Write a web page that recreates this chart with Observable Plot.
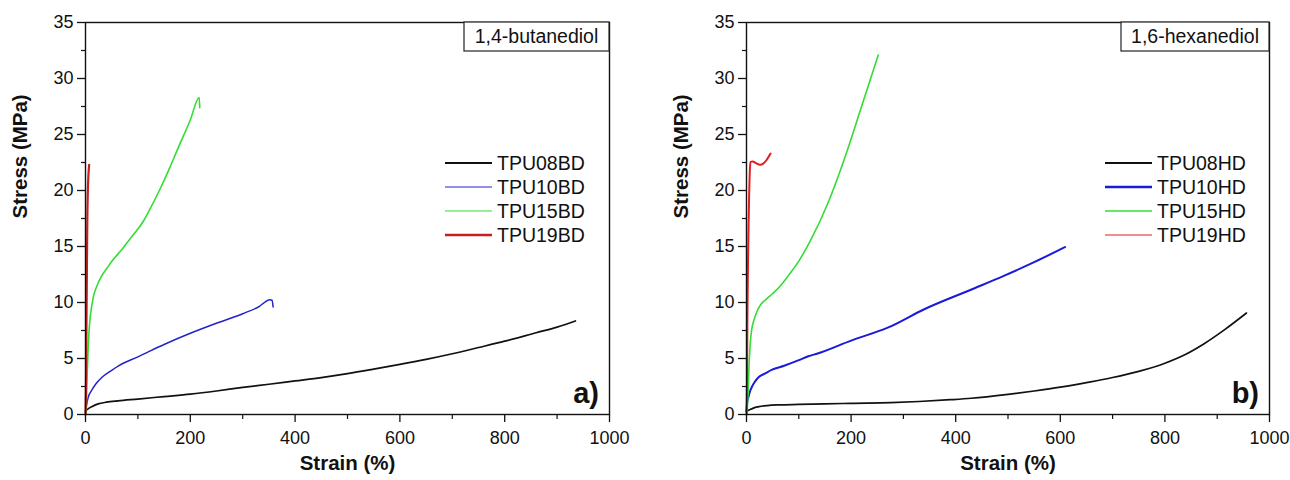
<!DOCTYPE html>
<html><head><meta charset="utf-8">
<script src="https://cdn.jsdelivr.net/npm/d3@7"></script>
<script src="https://cdn.jsdelivr.net/npm/@observablehq/plot@0.6"></script>
<style>
body{margin:0;background:#fff;}
#wrap{display:flex;width:1290px;height:480px;}
#wrap svg{font-family:"Liberation Sans",Arial,sans-serif;}
</style></head><body><div id="wrap"></div>
<script>
// ---- tick labels ----
const xTicks = [0, 200, 400, 600, 800, 1000];
const xMinor = [100, 300, 500, 700, 900];
const yTicks = [0, 5, 10, 15, 20, 25, 30, 35];
const yMinor = [2.5, 7.5, 12.5, 17.5, 22.5, 27.5, 32.5];

// ---- panel a) 1,4-butanediol : [strain %, stress MPa] ----
const TPU08BD = [[0,0.3],[5,0.5],[12,0.7],[24,0.95],[40,1.1],[62,1.22],[100,1.38],[150,1.6],[200,1.82],[250,2.1],[300,2.42],[350,2.7],[400,3.0],[450,3.3],[500,3.65],[550,4.05],[600,4.47],[650,4.92],[700,5.42],[750,5.98],[800,6.55],[860,7.3],[900,7.8],[935,8.35]];
const TPU10BD = [[1,0.4],[2,0.8],[5,1.5],[11,2.1],[20,2.75],[31,3.3],[50,3.95],[63,4.35],[100,5.15],[118,5.55],[150,6.25],[200,7.25],[250,8.15],[300,9.0],[330,9.6],[352,10.25],[356,10.2],[358,9.6]];
const TPU15BD = [[1,0],[2,1.5],[3.5,4],[5,5.8],[7,7.6],[9,8.7],[11,9.4],[15,10.5],[22,11.5],[30,12.3],[43,13.2],[54,13.9],[69,14.7],[82,15.5],[94,16.2],[111,17.3],[118,17.9],[143,20.2],[160,21.95],[175,23.6],[200,26.3],[217,28.3],[218,27.4]];
const TPU19BD = [[0,0],[1,3],[1.5,6],[2,9],[2.5,12],[3,15],[3.5,17.5],[4.5,20],[5.5,21.3],[7,22.3]];

// ---- panel b) 1,6-hexanediol ----
const TPU08HD = [[0,0.3],[5,0.4],[12,0.55],[24,0.7],[40,0.8],[62,0.86],[100,0.9],[150,0.95],[200,1.0],[276,1.06],[330,1.16],[390,1.32],[430,1.45],[500,1.8],[550,2.1],[600,2.44],[650,2.85],[700,3.3],[750,3.85],[800,4.58],[840,5.38],[875,6.32],[915,7.6],[956,9.06]];
const TPU10HD = [[0,0.3],[1,0.95],[4,1.6],[7,2.1],[10.7,2.5],[15,2.85],[23.5,3.35],[34,3.62],[49,4.0],[72,4.35],[100,4.85],[118,5.2],[136,5.45],[200,6.6],[270,7.75],[340,9.4],[429,11.14],[493,12.4],[550,13.6],[609,14.95]];
const TPU15HD = [[1,0],[3,2],[5,4.5],[7.6,6.6],[10,7.6],[14,8.4],[20,9.2],[27,9.8],[38,10.3],[50,10.8],[65,11.5],[80,12.4],[100,13.7],[123,15.6],[155,18.8],[187,22.8],[218,27.2],[252,32.1]];
const TPU19HD = [[0,0],[1,3],[1.5,7],[2,10],[3,14],[4,17],[5,19.5],[6,21.3],[7.6,22.55],[12,22.6],[18,22.45],[26,22.3],[32,22.4],[38,22.7],[46,23.3]];

const seriesBD = [
  {name:"TPU08BD", values:TPU08BD, color:"#111111", w:1.7, lw:1.8},
  {name:"TPU10BD", values:TPU10BD, color:"#2222cc", w:1.5, lw:1.2},
  {name:"TPU15BD", values:TPU15BD, color:"#33dd33", w:1.6, lw:1.2},
  {name:"TPU19BD", values:TPU19BD, color:"#c81e1e", w:2.2, lw:2.4}
];
const seriesHD = [
  {name:"TPU08HD", values:TPU08HD, color:"#111111", w:1.7, lw:1.8},
  {name:"TPU10HD", values:TPU10HD, color:"#1a1ad8", w:2.0, lw:2.4},
  {name:"TPU15HD", values:TPU15HD, color:"#33dd33", w:1.6, lw:1.5},
  {name:"TPU19HD", values:TPU19HD, color:"#e02020", w:2.0, lw:1.2}
];

function boxMark(label, boxW){
  return (index, scales, values, dim) => {
    const xr = dim.width - dim.marginRight, yt = dim.marginTop;
    const g = d3.create("svg:g");
    g.append("rect").attr("x", xr - boxW).attr("y", yt).attr("width", boxW).attr("height", 29)
      .attr("fill", "white").attr("stroke", "#222").attr("stroke-width", 1.2);
    g.append("text").attr("x", xr - boxW/2).attr("y", yt + 14.5).attr("dy", "0.35em")
      .attr("text-anchor", "middle").attr("font-size", 19.5).attr("fill", "#111").text(label);
    return g.node();
  };
}
function legendMark(series){
  return (index, scales, values, dim) => {
    const xr = dim.width - dim.marginRight;
    const g = d3.create("svg:g");
    series.forEach((s, i) => {
      const y = dim.marginTop + 141 + i * 24;
      g.append("line").attr("x1", xr - 164).attr("x2", xr - 117).attr("y1", y).attr("y2", y)
        .attr("stroke", s.color).attr("stroke-width", s.lw);
      g.append("text").attr("x", xr - 112).attr("y", y).attr("dy", "0.35em")
        .attr("text-anchor", "start")
        .attr("font-size", 19.5).attr("fill", "#111").text(s.name);
    });
    return g.node();
  };
}
function letterMark(letter){
  return (index, scales, values, dim) => {
    const xr = dim.width - dim.marginRight, yb = dim.height - dim.marginBottom;
    const g = d3.create("svg:g");
    g.append("text").attr("x", xr - 10).attr("y", yb - 11).attr("text-anchor", "end")
      .attr("font-size", 29).attr("font-weight", "bold").attr("fill", "#111").text(letter);
    return g.node();
  };
}

function panel(series, label, boxW, letter, mL, mR){
  return Plot.plot({
    width: 645, height: 480,
    marginLeft: mL, marginRight: mR, marginTop: 22, marginBottom: 66,
    x: {domain: [0, 1000]},
    y: {domain: [0, 35]},
    style: {fontFamily: "Liberation Sans, Arial, sans-serif", fontSize: "18px", color: "#111", background: "white", overflow: "visible"},
    marks: [
      ...series.map(s => Plot.line(s.values, {x: d => d[0], y: d => d[1], stroke: s.color, strokeWidth: s.w, curve: "monotone-x"})),
      Plot.frame({stroke: "#111", strokeWidth: 1.4}),
      Plot.axisX(xTicks, {tickSize: 8, tickPadding: 9, tickFormat: d => String(d), fontSize: 18, label: null, strokeWidth: 1.3}),
      Plot.axisX(xMinor, {tickSize: 5, tickFormat: () => "", label: null, strokeWidth: 1.2}),
      Plot.axisY(yTicks, {tickSize: 8, tickPadding: 4, tickFormat: d => String(d), fontSize: 18, label: null, strokeWidth: 1.3}),
      Plot.axisY(yMinor, {tickSize: 4, tickFormat: () => "", label: null, strokeWidth: 1.2}),
      Plot.text(["Strain (%)"], {frameAnchor: "bottom", dy: 55, fontWeight: "bold", fontSize: 20.5, fill: "#111"}),
      Plot.text(["Stress (MPa)"], {frameAnchor: "left", dx: -65, rotate: -90, fontWeight: "bold", fontSize: 20.5, fill: "#111"}),
      boxMark(label, boxW),
      legendMark(series),
      letterMark(letter)
    ]
  });
}

const wrap = document.getElementById("wrap");
wrap.append(panel(seriesBD, "1,4-butanediol", 145, "a)", 85, 36));
wrap.append(panel(seriesHD, "1,6-hexanediol", 148, "b)", 101, 21));
</script></body></html>
